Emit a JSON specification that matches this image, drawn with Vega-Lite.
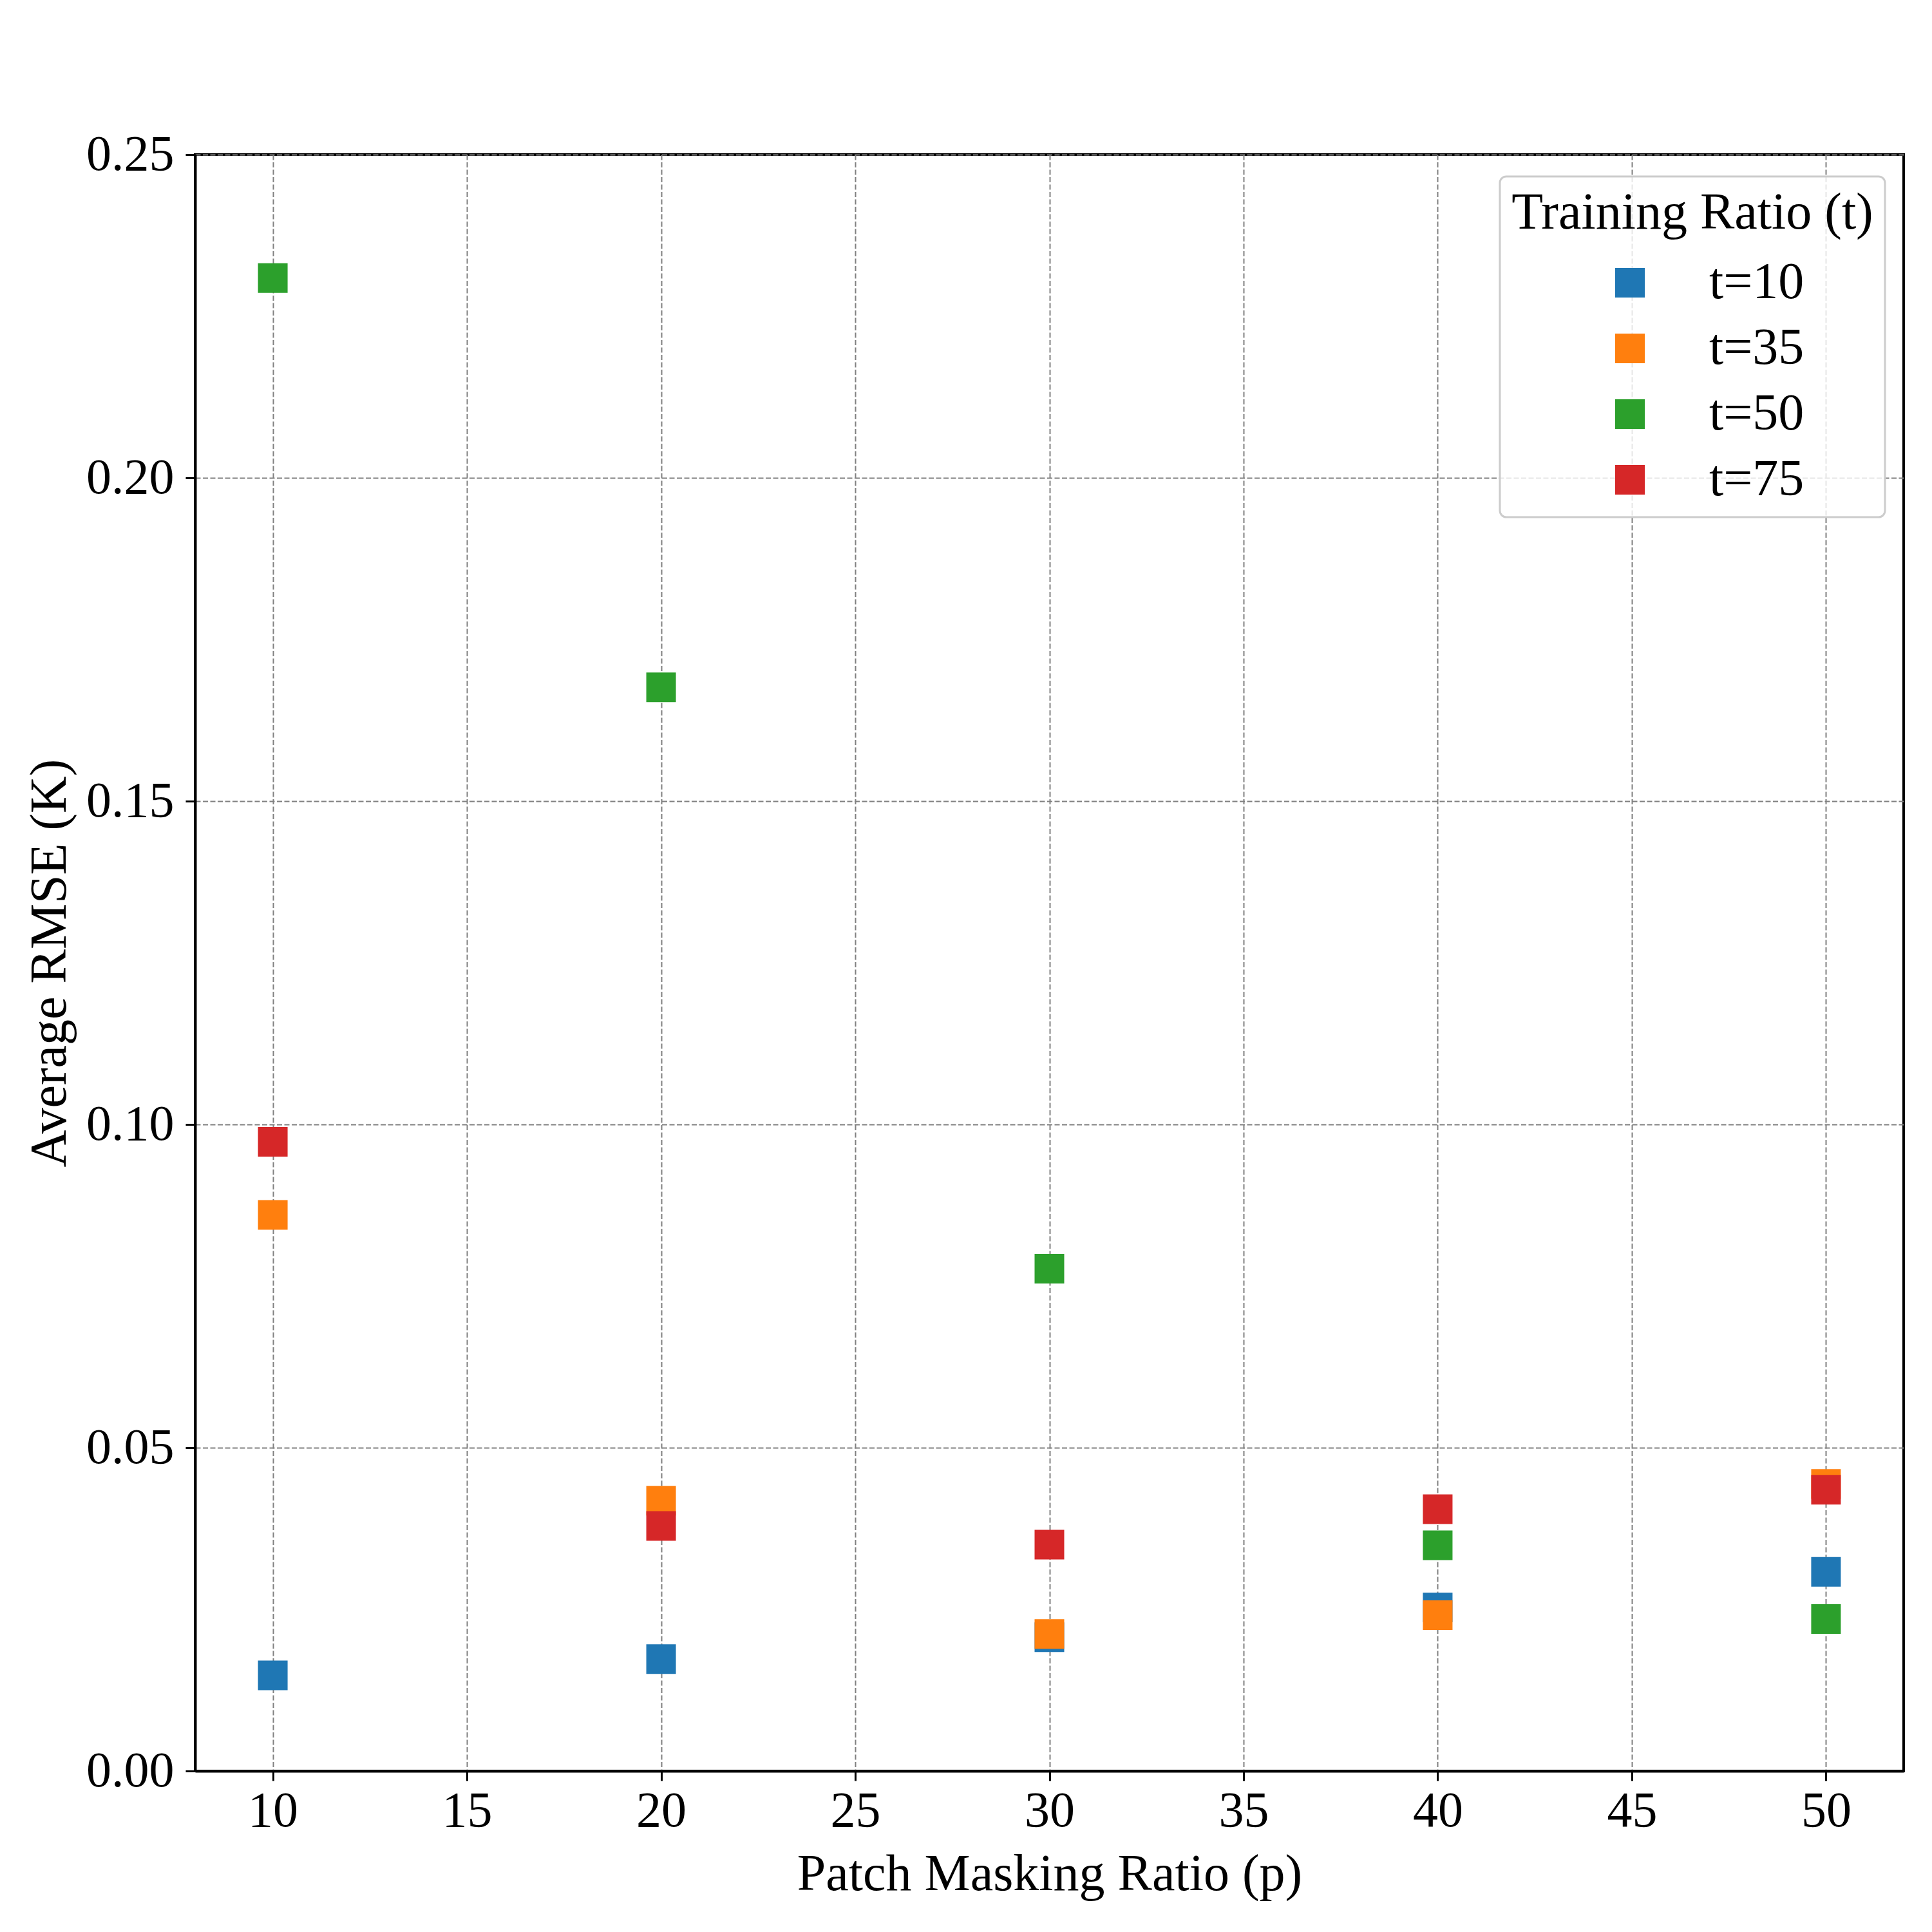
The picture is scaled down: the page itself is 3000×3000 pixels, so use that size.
{
  "$schema": "https://vega.github.io/schema/vega-lite/v6.json",
  "width": 2653,
  "height": 2510,
  "autosize": {"type": "none"},
  "padding": {"left": 303, "top": 240, "right": 44, "bottom": 250},
  "background": "white",
  "config": {
    "font": "Liberation Serif",
    "view": {"stroke": "black", "strokeWidth": 4},
    "axis": {
      "domainColor": "black",
      "domainWidth": 4,
      "tickColor": "black",
      "tickWidth": 3,
      "tickSize": 15,
      "labelFont": "Liberation Serif",
      "labelFontSize": 78,
      "labelColor": "black",
      "labelFlush": false,
      "labelOverlap": false,
      "titleFont": "Liberation Serif",
      "titleFontSize": 80,
      "titleFontWeight": "normal",
      "titleColor": "black",
      "gridColor": "#808080",
      "gridWidth": 2,
      "gridDash": [8, 3.5]
    },
    "legend": {
      "titleFont": "Liberation Serif",
      "labelFont": "Liberation Serif",
      "strokeWidth": 3
    }
  },
  "data": {
    "values": [
      {"p": 10, "t": "t=10", "rmse": 0.0148},
      {"p": 20, "t": "t=10", "rmse": 0.0173},
      {"p": 30, "t": "t=10", "rmse": 0.0207},
      {"p": 40, "t": "t=10", "rmse": 0.0253},
      {"p": 50, "t": "t=10", "rmse": 0.0308},
      {"p": 10, "t": "t=35", "rmse": 0.0860},
      {"p": 20, "t": "t=35", "rmse": 0.0418},
      {"p": 30, "t": "t=35", "rmse": 0.0212},
      {"p": 40, "t": "t=35", "rmse": 0.0241},
      {"p": 50, "t": "t=35", "rmse": 0.0444},
      {"p": 10, "t": "t=50", "rmse": 0.2309},
      {"p": 20, "t": "t=50", "rmse": 0.1676},
      {"p": 30, "t": "t=50", "rmse": 0.0777},
      {"p": 40, "t": "t=50", "rmse": 0.0349},
      {"p": 50, "t": "t=50", "rmse": 0.0235},
      {"p": 10, "t": "t=75", "rmse": 0.0973},
      {"p": 20, "t": "t=75", "rmse": 0.0379},
      {"p": 30, "t": "t=75", "rmse": 0.0350},
      {"p": 40, "t": "t=75", "rmse": 0.0405},
      {"p": 50, "t": "t=75", "rmse": 0.0435}
    ]
  },
  "mark": {"type": "point", "shape": "square", "filled": true, "opacity": 1, "size": 2116},
  "encoding": {
    "x": {
      "field": "p",
      "type": "quantitative",
      "scale": {"domain": [8, 52], "nice": false, "zero": false},
      "axis": {
        "values": [10, 15, 20, 25, 30, 35, 40, 45, 50],
        "labelPadding": 8,
        "titlePadding": 20,
        "title": "Patch Masking Ratio (p)"
      }
    },
    "y": {
      "field": "rmse",
      "type": "quantitative",
      "scale": {"domain": [0, 0.25], "nice": false},
      "axis": {
        "values": [0, 0.05, 0.1, 0.15, 0.2, 0.25],
        "format": ".2f",
        "labelPadding": 18,
        "titlePadding": 15,
        "title": "Average RMSE (K)"
      }
    },
    "color": {
      "field": "t",
      "type": "nominal",
      "scale": {
        "domain": ["t=10", "t=35", "t=50", "t=75"],
        "range": ["#1f77b4", "#ff7f0e", "#2ca02c", "#d62728"]
      },
      "legend": {
        "title": "Training Ratio (t)",
        "orient": "none",
        "legendX": 2026,
        "legendY": 34,
        "padding": 18,
        "fillColor": "rgba(255,255,255,0.8)",
        "strokeColor": "#cccccc",
        "cornerRadius": 10,
        "titleFontSize": 80,
        "titleFontWeight": "normal",
        "titleColor": "black",
        "titleAnchor": "middle",
        "titleLimit": 2000,
        "titlePadding": 27,
        "labelFontSize": 80,
        "labelColor": "black",
        "labelBaseline": "middle",
        "labelLimit": 1000,
        "symbolType": "square",
        "symbolSize": 2116,
        "symbolStrokeWidth": 0,
        "symbolOffset": 37,
        "labelOffset": 83,
        "rowPadding": 22
      }
    }
  }
}
